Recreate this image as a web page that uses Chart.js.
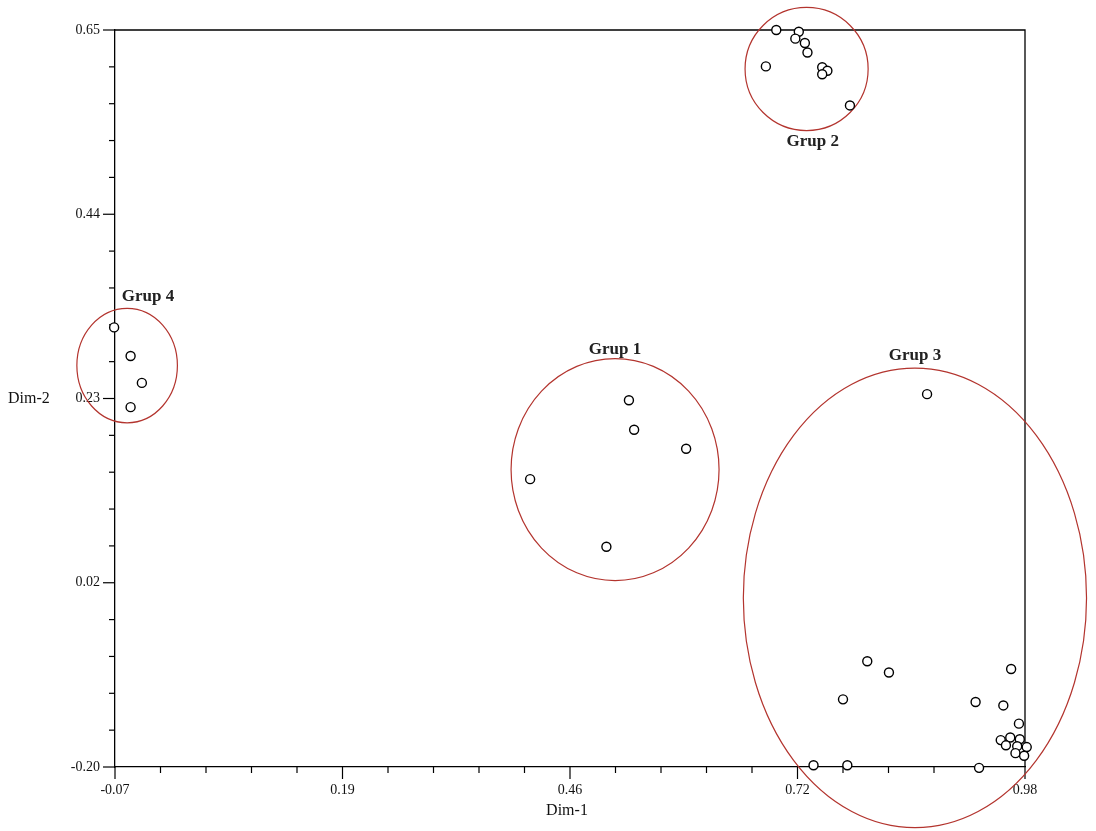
<!DOCTYPE html>
<html lang="en">
<head>
  <meta charset="UTF-8" />
  <title>Grup</title>
  <script src="https://cdn.jsdelivr.net/npm/chart.js"></script>
  <style>
    body { margin: 0; background: #fff; }
    canvas { display: block; }
  </style>
</head>
<body>
  <canvas id="mdsChart" width="1096" height="831"></canvas>

  <script>
    // axis ranges and labels
    const xMin = -0.07, xMax = 0.98;
    const yMin = -0.20, yMax = 0.65;
    const xTickLabels = ['-0.07', '0.19', '0.46', '0.72', '0.98'];
    const yTickLabels = ['-0.20', '0.02', '0.23', '0.44', '0.65'];

    // points (Dim-1, Dim-2)
    const dim1 = [
      0.693, 0.719, 0.715, 0.726, 0.729, 0.681, 0.746, 0.752, 0.746, 0.778,
      -0.071, -0.052, -0.039, -0.052,
      0.523, 0.529, 0.589, 0.409, 0.497,
      0.867, 0.798, 0.823, 0.770, 0.964, 0.923, 0.955, 0.973, 0.952, 0.963,
      0.974, 0.982, 0.958, 0.971, 0.969, 0.979, 0.736, 0.775, 0.927
    ];
    const dim2 = [
      0.650, 0.648, 0.640, 0.635, 0.624, 0.608, 0.607, 0.603, 0.599, 0.563,
      0.307, 0.274, 0.243, 0.215,
      0.223, 0.189, 0.167, 0.132, 0.054,
      0.230, -0.078, -0.091, -0.122, -0.087, -0.125, -0.129, -0.150, -0.169, -0.166,
      -0.168, -0.177, -0.175, -0.176, -0.184, -0.187, -0.198, -0.198, -0.201
    ];

    // group ellipses (data units)
    const groupNames   = ['Grup 1', 'Grup 2', 'Grup 3', 'Grup 4'];
    const groupCx      = [0.507, 0.728, 0.853, -0.056];
    const groupCy      = [0.143, 0.605, -0.005, 0.263];
    const groupRx      = [0.120, 0.071, 0.198, 0.058];
    const groupRy      = [0.128, 0.071, 0.265, 0.066];
    const groupLabelX  = [0.507, 0.735, 0.853, -0.032];
    const groupLabelY  = [0.281, 0.521, 0.274, 0.342];

    const points = dim1.map((x, i) => ({ x: x, y: dim2[i] }));

    function tenthTicks(min, max) {
      const out = [];
      for (let i = 0; i <= 20; i++) out.push({ value: min + i * (max - min) / 20 });
      return out;
    }

    const frame = {
      id: 'frame',
      beforeDatasetsDraw(chart) {
        const ctx = chart.ctx;
        const a = chart.chartArea;
        const xs = chart.scales.x, ys = chart.scales.y;
        ctx.save();
        // top and right edges of the box
        ctx.strokeStyle = '#000';
        ctx.lineWidth = 1.3;
        ctx.beginPath();
        ctx.moveTo(a.left, a.top);
        ctx.lineTo(a.right, a.top);
        ctx.lineTo(a.right, a.bottom);
        ctx.stroke();

        // tick marks, long on labelled ones
        ctx.lineWidth = 1.2;
        xs.ticks.forEach((t, i) => {
          const px = xs.getPixelForValue(t.value);
          ctx.beginPath();
          ctx.moveTo(px, a.bottom);
          ctx.lineTo(px, a.bottom + (i % 5 === 0 ? 12 : 6));
          ctx.stroke();
        });
        ys.ticks.forEach((t, i) => {
          const py = ys.getPixelForValue(t.value);
          ctx.beginPath();
          ctx.moveTo(a.left, py);
          ctx.lineTo(a.left - (i % 5 === 0 ? 12 : 6), py);
          ctx.stroke();
        });

        // group ellipses
        ctx.strokeStyle = '#b3342e';
        ctx.lineWidth = 1.2;
        groupNames.forEach((name, i) => {
          const cx = xs.getPixelForValue(groupCx[i]);
          const cy = ys.getPixelForValue(groupCy[i]);
          const rx = Math.abs(xs.getPixelForValue(groupCx[i] + groupRx[i]) - cx);
          const ry = Math.abs(ys.getPixelForValue(groupCy[i] + groupRy[i]) - cy);
          ctx.beginPath();
          ctx.ellipse(cx, cy, rx, ry, 0, 0, Math.PI * 2);
          ctx.stroke();
        });

        // group labels
        ctx.fillStyle = '#222';
        ctx.font = 'bold 17px "Liberation Serif", serif';
        ctx.textAlign = 'center';
        ctx.textBaseline = 'middle';
        groupNames.forEach((name, i) => {
          ctx.fillText(name, xs.getPixelForValue(groupLabelX[i]), ys.getPixelForValue(groupLabelY[i]));
        });

        // axis titles
        ctx.fillStyle = '#111';
        ctx.font = '16px "Liberation Serif", serif';
        ctx.fillText('Dim-1', (a.left + a.right) / 2 - 3, a.bottom + 44);
        ctx.textAlign = 'left';
        ctx.fillText('Dim-2', 8, (a.top + a.bottom) / 2);
        ctx.restore();
      }
    };

    const tickFont = { family: '"Liberation Serif", serif', size: 14 };

    new Chart(document.getElementById('mdsChart'), {
      type: 'scatter',
      data: {
        datasets: [{
          data: points,
          pointRadius: 4.5,
          pointHoverRadius: 4.5,
          pointBackgroundColor: '#fff',
          pointBorderColor: '#000',
          pointBorderWidth: 1.4,
          clip: false
        }]
      },
      options: {
        responsive: false,
        animation: false,
        layout: { padding: { top: 30, right: 71, left: 0, bottom: 0 } },
        plugins: {
          legend: { display: false },
          tooltip: { enabled: false }
        },
        scales: {
          x: {
            type: 'linear',
            min: xMin,
            max: xMax,
            afterBuildTicks: s => { s.ticks = tenthTicks(xMin, xMax); },
            afterFit: s => { s.height = 64; },
            grid: { display: false, drawTicks: false },
            border: { display: true, color: '#000', width: 1.3 },
            ticks: {
              autoSkip: false,
              maxRotation: 0,
              padding: 15,
              color: '#111',
              font: tickFont,
              callback: (v, i) => (i % 5 === 0 ? xTickLabels[i / 5] : '')
            }
          },
          y: {
            type: 'linear',
            min: yMin,
            max: yMax,
            afterBuildTicks: s => { s.ticks = tenthTicks(yMin, yMax); },
            afterFit: s => { s.width = 115; },
            grid: { display: false, drawTicks: false },
            border: { display: true, color: '#000', width: 1.3 },
            ticks: {
              autoSkip: false,
              padding: 15,
              color: '#111',
              font: tickFont,
              callback: (v, i) => (i % 5 === 0 ? yTickLabels[i / 5] : '')
            }
          }
        }
      },
      plugins: [frame]
    });
  </script>
</body>
</html>
